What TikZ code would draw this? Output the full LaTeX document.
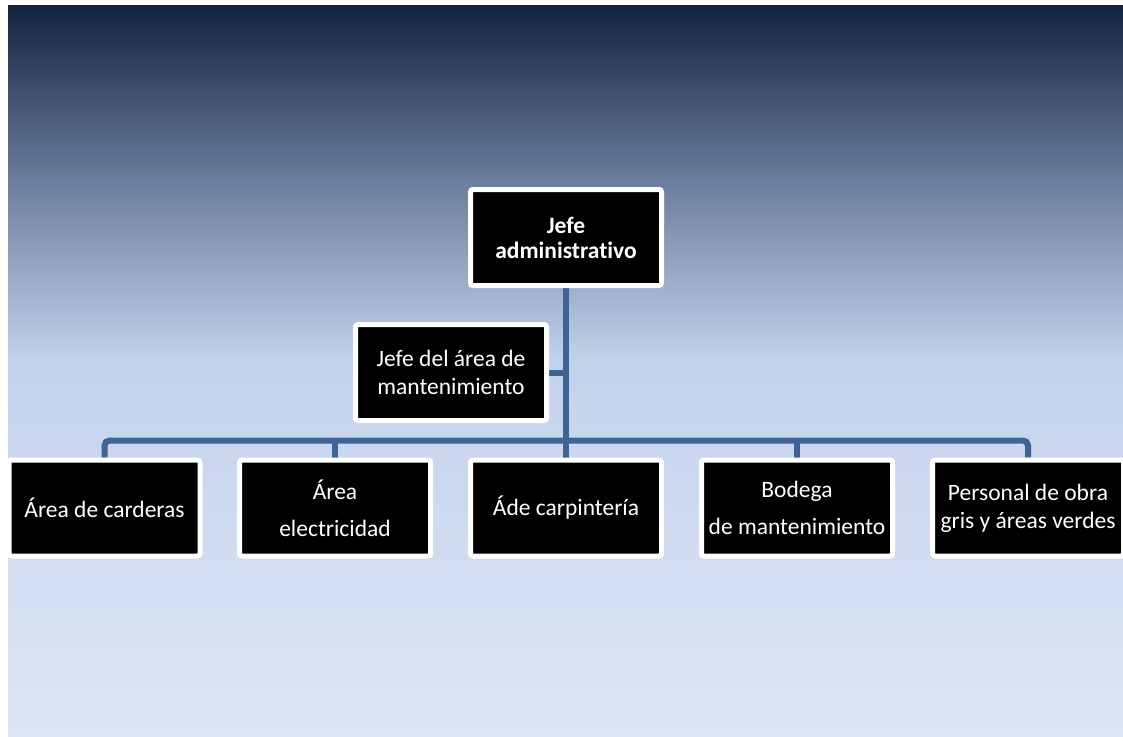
\documentclass[tikz,border=0pt]{standalone}
\usepackage{fontspec}
\setmainfont{Carlito}[Ligatures=NoCommon]
\usetikzlibrary{backgrounds}

\definecolor{skyA}{HTML}{13233F}
\definecolor{skyB}{HTML}{6A7D9C}
\definecolor{skyC}{HTML}{C3D2EC}
\definecolor{skyD}{HTML}{DFE6F5}
\definecolor{linkblue}{HTML}{3D6397}

\tikzset{
  unit/.style={
    fill=black, draw=white, line width=5pt, rounded corners=2.5pt,
    minimum width=191pt, minimum height=96pt, inner sep=0pt,
    align=center, text=white,
    font=\fontsize{23.5}{28}\selectfont
  },
  link/.style={draw=linkblue, line width=6pt}
}

\begin{document}
\begin{tikzpicture}[x=1pt, y=-1pt]
  \useasboundingbox (0,0) rectangle (1123,736);

  % organisation units
  \node[unit, font=\bfseries\fontsize{23.5}{25}\selectfont] (admin) at (566,237.5) {Jefe\\administrativo};
  \node[unit] (mant) at (451,372.5) {Jefe del área de\\mantenimiento};

  \node[unit] (c1) at (104.5,508) {Área de carderas};
  \node[unit] (c2) at (335,508) {Área\\[9pt]electricidad};
  \node[unit] (c3) at (566,508) {Áde carpintería};
  \node[unit] (c4) at (797,508) {Bodega\\[9pt]de mantenimiento};
  \node[unit] (c5) at (1028,508) {Personal de obra\\gris y áreas verdes};

  \coordinate (bus) at (566,440.5);

  \begin{scope}[on background layer]
    % backdrop: vertical navy-to-pale-blue gradient, white margin left and top
    \shade[top color=skyA, bottom color=skyB] (8,5) rectangle (1140,180.5);
    \shade[top color=skyB, bottom color=skyC] (8,180) rectangle (1140,360.5);
    \shade[top color=skyC, bottom color=skyD] (8,360) rectangle (1140,750);
    \fill[white] (-5,-5) rectangle (8,750);
    \fill[white] (-5,-5) rectangle (1140,5);

    % connectors, kept behind the boxes
    \draw[link] (admin.south) -- (c3.north);
    \draw[link] (admin.south |- mant.east) -- (mant.east);
    \draw[link, rounded corners=5pt] (c1.north) |- (bus) -| (c5.north);
    \draw[link] (c2.north |- bus) -- (c2.north);
    \draw[link] (c4.north |- bus) -- (c4.north);
  \end{scope}
\end{tikzpicture}
\end{document}
